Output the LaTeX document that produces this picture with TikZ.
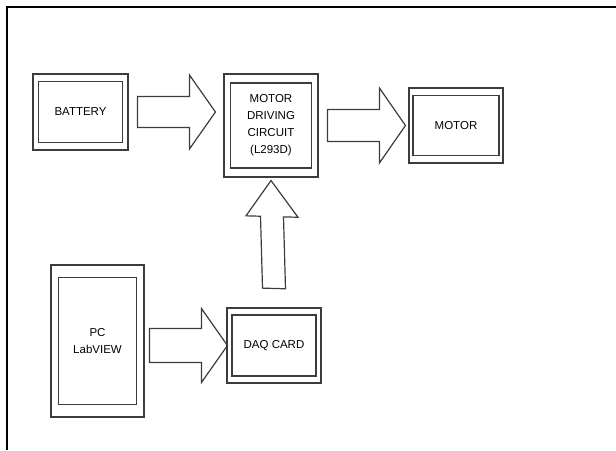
\documentclass[tikz,border=0pt]{standalone}
\usepackage{fontspec}
\setmainfont{Liberation Sans}
\usepackage{tikz}
\usetikzlibrary{calc}

\definecolor{linegray}{RGB}{60,60,60}
\tikzset{
  outerbox/.style={draw=linegray, line width=1.1pt, minimum width=#1, inner sep=0pt},
  innerbox/.style={draw=linegray, line width=1.4pt, align=center, font=\fontsize{11.5}{17}\selectfont, inner sep=0pt},
  fatarrow/.style={draw=linegray, line width=1.2pt, line join=miter}
}
% block arrow: start, tip, half shaft, half head, head length
\newcommand{\bigarrow}[5]{%
  \draw[fatarrow] let \p1=(#1), \p2=(#2), \n1={atan2(\y2-\y1,\x2-\x1)}, \n2={veclen(\x2-\x1,\y2-\y1)} in
    ($(\p1)+(\n1+90:#3)$) -- ($(\p1)+(\n1:{\n2-#5})+(\n1+90:#3)$) -- ($(\p1)+(\n1:{\n2-#5})+(\n1+90:#4)$)
    -- (\p2) -- ($(\p1)+(\n1:{\n2-#5})+(\n1-90:#4)$) -- ($(\p1)+(\n1:{\n2-#5})+(\n1-90:#3)$)
    -- ($(\p1)+(\n1-90:#3)$) -- cycle;}

\begin{document}
\begin{tikzpicture}[x=1pt, y=-1pt]
\useasboundingbox (0,0) rectangle (616,450);
\draw[line width=2pt] (7,450) -- (7,7) -- (616,7);

% outer frames
\node[outerbox=95pt, minimum height=76pt] (batO) at (80.5,112) {};
\node[outerbox=94pt, minimum height=103pt] (mdcO) at (271,125.5) {};
\node[outerbox=94pt, minimum height=75pt] (motO) at (456,125.5) {};
\node[outerbox=93pt, minimum height=152pt] (pcO) at (97.5,341) {};
\node[outerbox=94pt, minimum height=75pt] (daqO) at (274,345.5) {};

% inner boxes with text
\node[innerbox, minimum width=84pt, minimum height=61pt] (bat) at (batO) {BATTERY};
\node[innerbox, minimum width=81pt, minimum height=85pt] (mdc) at (mdcO) {MOTOR\\DRIVING\\CIRCUIT\\(L293D)};
\node[innerbox, minimum width=86pt, minimum height=60pt] (mot) at (motO) {MOTOR};
\node[innerbox, minimum width=78pt, minimum height=127pt] (pc) at (pcO) {PC\\LabVIEW};
\node[innerbox, minimum width=84pt, minimum height=61pt] (daq) at (daqO) {DAQ CARD};

% block arrows
\bigarrow{[xshift=9pt]batO.east}{[xshift=-8pt]mdcO.west |- batO.east}{15.5}{37}{26}
\bigarrow{[xshift=9pt]mdcO.east |- motO.west}{[xshift=-3pt]motO.west}{16}{37.5}{26}
\bigarrow{[xshift=5pt]pcO.east |- daqO.west}{[xshift=1pt]daqO.west}{17}{37}{26}
\bigarrow{[yshift=19pt]daqO.north}{[yshift=-3pt]mdcO.south}{11.5}{26}{36}
\end{tikzpicture}
\end{document}
